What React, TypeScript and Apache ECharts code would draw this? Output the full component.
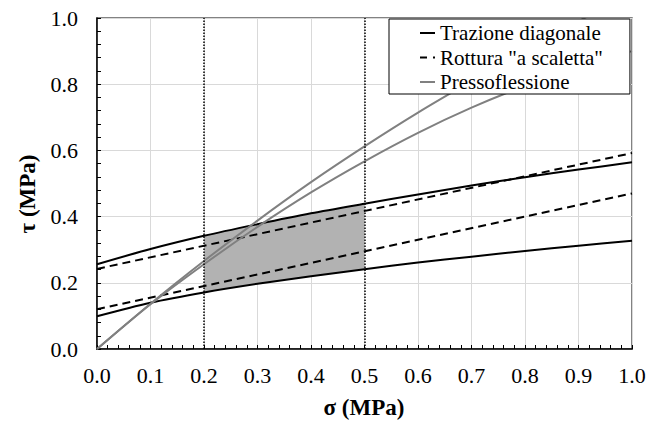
import React, { useEffect, useRef } from "react";
import * as echarts from "echarts";

const sigma = [0, 0.1, 0.2, 0.3, 0.4, 0.5, 0.6, 0.7, 0.8, 0.9, 1.0];
const trazSup = [0.256, 0.302, 0.342, 0.377, 0.41, 0.439, 0.467, 0.494, 0.519, 0.542, 0.564];
const trazInf = [0.099, 0.14, 0.171, 0.197, 0.22, 0.241, 0.261, 0.279, 0.296, 0.312, 0.327];
const scalSigma = [0, 1.0];
const scalSup = [0.242, 0.592];
const scalInf = [0.12, 0.47];
const pressA = [0, 0.137, 0.266, 0.388, 0.504, 0.612, 0.714, 0.809, 0.9, 0.99, 1.075];
const pressB = [0, 0.135, 0.256, 0.369, 0.473, 0.567, 0.653, 0.729, 0.795, 0.852, 0.9];
const bandFrom = 0.2;
const bandTo = 0.5;
const markX = [0.2, 0.5];
const legendNames = ["Trazione diagonale", 'Rottura "a scaletta"', "Pressoflessione"];

const FONT = "Liberation Serif";

export default function App() {
  const ref = useRef<HTMLDivElement>(null);
  useEffect(() => {
    if (!ref.current) return;
    const chart = echarts.init(ref.current, null, { renderer: "svg" });
    const pair = (xs: number[], ys: number[]) => xs.map((x, i) => [x, ys[i]]);
    const black = "#000000";
    const grey = "#808080";
    const solidIcon = "path://M0 0H15V2H0Z";
    const dashIcon = "path://M0 0H7V2H0Z M13 0H15V2H13Z";
    const option: any = {
      animation: false,
      backgroundColor: "#ffffff",
      textStyle: { fontFamily: FONT },
      grid: {
        left: 97,
        right: 32,
        top: 18,
        bottom: 72,
        show: true,
        borderColor: "#595959",
        borderWidth: 1.5,
      },
      legend: {
        data: [
          { name: legendNames[0], icon: solidIcon, itemStyle: { color: black } },
          { name: legendNames[1], icon: dashIcon, itemStyle: { color: black } },
          { name: legendNames[2], icon: solidIcon, itemStyle: { color: grey } },
        ],
        orient: "vertical",
        left: 389,
        top: 19,
        itemWidth: 15,
        itemHeight: 2,
        itemGap: 0.5,
        padding: [2, 27, 0, 31],
        backgroundColor: "#ffffff",
        borderColor: "#000000",
        borderWidth: 1,
        selectedMode: false,
        textStyle: { fontFamily: FONT, fontSize: 21, color: "#000", lineHeight: 24 },
      },
      xAxis: {
        type: "value",
        min: 0,
        max: 1,
        interval: 0.1,
        axisLine: { show: true, onZero: false, lineStyle: { color: black, width: 1.5 } },
        axisTick: { show: true, inside: true, length: 4, lineStyle: { color: black } },
        minorTick: { show: true, splitNumber: 5, length: 4, lineStyle: { color: black } },
        splitLine: { show: true, lineStyle: { color: "#d9d9d9", width: 1 } },
        axisLabel: {
          margin: 15,
          fontFamily: FONT,
          fontSize: 22,
          color: "#000",
          formatter: (v: number) => v.toFixed(1),
        },
      },
      yAxis: {
        type: "value",
        min: 0,
        max: 1,
        interval: 0.2,
        axisLine: { show: true, onZero: false, lineStyle: { color: black, width: 1.5 } },
        axisTick: { show: true, inside: true, length: 4, lineStyle: { color: black } },
        minorTick: { show: true, splitNumber: 5, length: 4, lineStyle: { color: black } },
        splitLine: { show: true, lineStyle: { color: "#d9d9d9", width: 1 } },
        axisLabel: {
          margin: 19,
          fontFamily: FONT,
          fontSize: 22,
          color: "#000",
          formatter: (v: number) => v.toFixed(1),
        },
      },
      graphic: [
        {
          type: "text",
          x: 364,
          y: 407,
          style: {
            text: "σ (MPa)",
            fontFamily: FONT,
            fontWeight: "bold",
            fontSize: 23,
            fill: "#000",
            textAlign: "center",
            textVerticalAlign: "middle",
          },
        },
        {
          type: "text",
          x: 27,
          y: 194,
          rotation: Math.PI / 2,
          style: {
            text: "τ (MPa)",
            fontFamily: FONT,
            fontWeight: "bold",
            fontSize: 23,
            fill: "#000",
            textAlign: "center",
            textVerticalAlign: "middle",
          },
        },
      ],
      series: [
        {
          type: "custom",
          name: "band",
          silent: true,
          z: 1,
          data: [[0.35, 0.3]],
          encode: { x: 0, y: 1 },
          renderItem: (params: any, api: any) => {
            const pts: number[][] = [];
            for (let i = 0; i < sigma.length; i++) {
              if (sigma[i] >= bandFrom - 1e-9 && sigma[i] <= bandTo + 1e-9) pts.push(api.coord([sigma[i], trazSup[i]]));
            }
            for (let i = sigma.length - 1; i >= 0; i--) {
              if (sigma[i] >= bandFrom - 1e-9 && sigma[i] <= bandTo + 1e-9) pts.push(api.coord([sigma[i], trazInf[i]]));
            }
            return { type: "polygon", shape: { points: pts }, style: { fill: "#b2b2b2" } };
          },
          markLine: {
            silent: true,
            symbol: "none",
            label: { show: false },
            lineStyle: { color: "#000", type: "dotted", width: 1.5 },
            data: markX.map((x) => ({ xAxis: x })),
          },
        },
        {
          type: "line",
          name: legendNames[0],
          data: pair(sigma, trazSup),
          smooth: 0.3,
          symbol: "none",
          z: 3,
          lineStyle: { color: black, width: 2 },
          itemStyle: { color: black },
        },
        {
          type: "line",
          name: legendNames[0],
          data: pair(sigma, trazInf),
          smooth: 0.3,
          symbol: "none",
          z: 3,
          lineStyle: { color: black, width: 2 },
          itemStyle: { color: black },
        },
        {
          type: "line",
          name: legendNames[1],
          data: pair(scalSigma, scalSup),
          symbol: "none",
          z: 3,
          lineStyle: { color: black, width: 2, type: [8, 5] },
          itemStyle: { color: black },
        },
        {
          type: "line",
          name: legendNames[1],
          data: pair(scalSigma, scalInf),
          symbol: "none",
          z: 3,
          lineStyle: { color: black, width: 2, type: [8, 5] },
          itemStyle: { color: black },
        },
        {
          type: "line",
          name: legendNames[2],
          data: pair(sigma, pressA),
          smooth: 0.3,
          symbol: "none",
          z: 3,
          lineStyle: { color: grey, width: 2 },
          itemStyle: { color: grey },
        },
        {
          type: "line",
          name: legendNames[2],
          data: pair(sigma, pressB),
          smooth: 0.3,
          symbol: "none",
          z: 3,
          lineStyle: { color: grey, width: 2 },
          itemStyle: { color: grey },
        },
      ],
    };
    chart.setOption(option);
    return () => chart.dispose();
  }, []);
  return (
    <div
      ref={ref}
      style={{ position: "fixed", left: 0, top: 0, width: 664, height: 421, background: "#fff" }}
    />
  );
}
